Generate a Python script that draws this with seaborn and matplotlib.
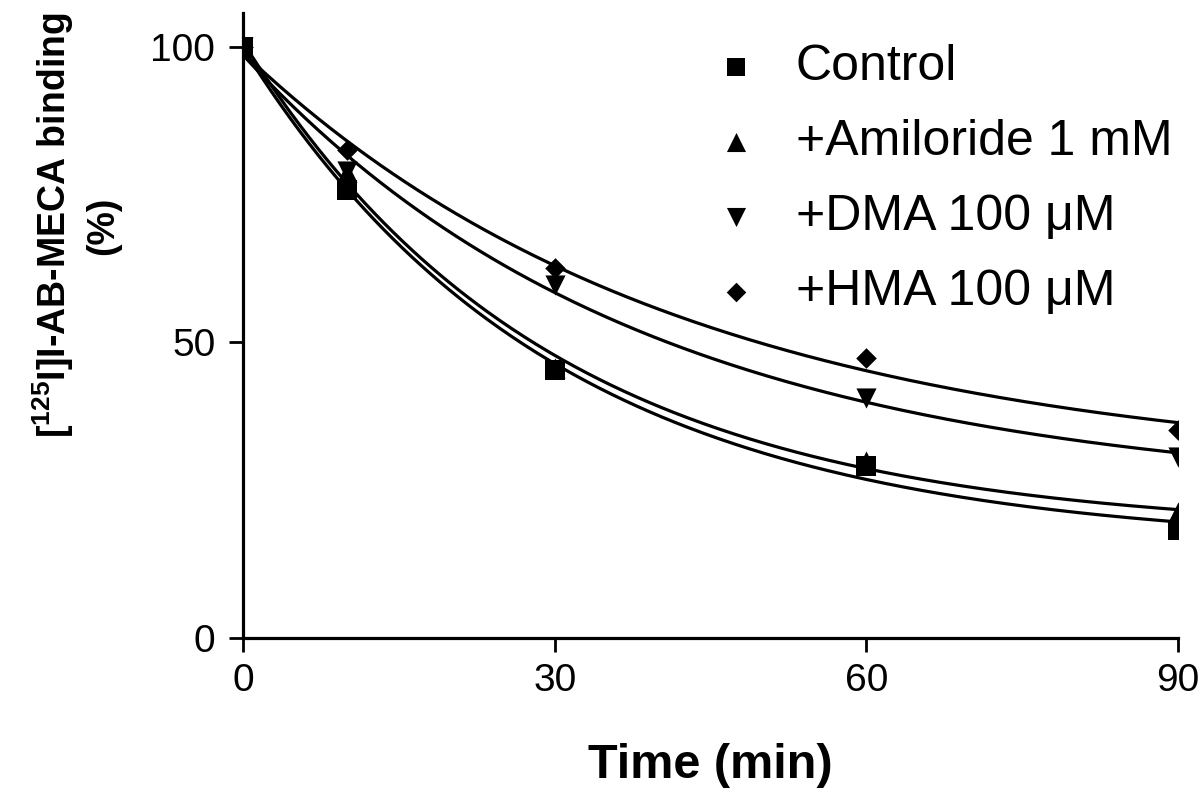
import numpy as np
import pandas as pd
import matplotlib
matplotlib.use('Agg')
import matplotlib.pyplot as plt
import seaborn as sns

# data (% of specific binding left)
time_min = [0, 10, 30, 60, 90]
control = [100, 75.8, 45.3, 29.1, 18.3]
amiloride = [100, 78.9, 45.7, 30.0, 21.3]
dma = [100, 79.0, 59.7, 40.6, 30.6]
hma = [100, 82.6, 62.6, 47.3, 35.2]

labels = ['Control', '+Amiloride 1 mM', '+DMA 100 \u03bcM', '+HMA 100 \u03bcM']
markers = ['s', '^', 'v', 'D']
sizes = [200, 210, 210, 110]
x_ticks = [0, 30, 60, 90]
y_ticks = [0, 50, 100]

series = [control, amiloride, dma, hma]

sns.set_theme(style='ticks')
plt.rcParams['font.family'] = ['Liberation Sans', 'DejaVu Sans']
plt.rcParams['text.color'] = 'black'
plt.rcParams['axes.labelcolor'] = 'black'
plt.rcParams['mathtext.fontset'] = 'custom'
plt.rcParams['mathtext.rm'] = 'Liberation Sans:bold'
plt.rcParams['mathtext.it'] = 'Liberation Sans:bold'
plt.rcParams['mathtext.bf'] = 'Liberation Sans:bold'


def fit_decay(t, y):
    # one phase exponential decay, y = span*exp(-k t) + plateau
    t = np.asarray(t, float)
    y = np.asarray(y, float)
    best = None
    for k in np.linspace(0.002, 0.2, 3000):
        A = np.column_stack([np.exp(-k * t), np.ones_like(t)])
        coef = np.linalg.lstsq(A, y, rcond=None)[0]
        sse = np.sum((A @ coef - y) ** 2)
        if best is None or sse < best[0]:
            best = (sse, k, coef)
    return best[1], best[2]


points = pd.DataFrame({
    'time': np.tile(time_min, len(series)),
    'binding': np.concatenate(series),
    'cond': np.repeat(labels, len(time_min)),
})

t_fit = np.linspace(0, 90, 300)
curves = []
for lab, vals in zip(labels, series):
    k, (span, plateau) = fit_decay(time_min, vals)
    curves.append(pd.DataFrame({'time': t_fit,
                                'binding': span * np.exp(-k * t_fit) + plateau,
                                'cond': lab}))
curves = pd.concat(curves, ignore_index=True)

fig = plt.figure(figsize=(12, 7.95), dpi=100)
ax = fig.add_axes([0.2025, 0.1975, 0.7792, 0.786])

for i, lab in enumerate(labels):
    sns.lineplot(data=curves[curves.cond == lab], x='time', y='binding',
                 color='black', lw=2.3, ax=ax, legend=False)
for i, lab in enumerate(labels):
    sns.scatterplot(data=points[points.cond == lab], x='time', y='binding',
                    marker=markers[i], s=sizes[i], color='black',
                    linewidth=0, ax=ax, label=lab, zorder=3)

ax.set_xlim(0, 90)
ax.set_ylim(0, 105.7)
ax.set_xticks(x_ticks)
ax.set_yticks(y_ticks)
ax.tick_params(axis='both', labelsize=28, length=10, width=2, color='black',
               labelcolor='black')
ax.tick_params(axis='y', pad=10)
ax.tick_params(axis='x', pad=8)
sns.despine(ax=ax)
for sp in ['left', 'bottom']:
    ax.spines[sp].set_linewidth(2.3)
    ax.spines[sp].set_color('black')

ax.set_xlabel('Time (min)', fontsize=35, fontweight='bold', labelpad=32)
ax.set_ylabel('[$^{125}$I]I-AB-MECA binding\n(%)', fontsize=27,
              fontweight='bold', linespacing=1.35)
ax.yaxis.set_label_coords(-0.13, 0.66)

leg = ax.legend(loc='upper left', bbox_to_anchor=(0.5, 0.95), frameon=False,
                fontsize=36, handlelength=1.0, handletextpad=0.7,
                labelspacing=0.58, borderpad=0, borderaxespad=0,
                markerscale=0.95)

fig.savefig('out.png', dpi=100, facecolor='white')
